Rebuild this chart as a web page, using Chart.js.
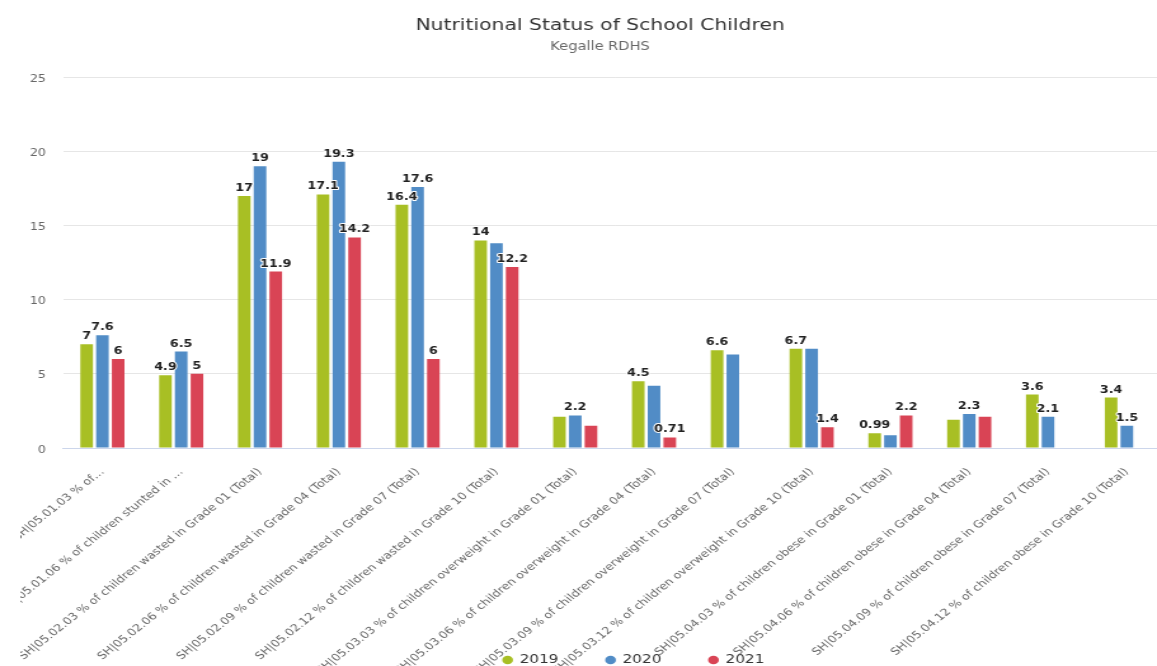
<!DOCTYPE html>
<html>
<head>
<meta charset="utf-8">
<title>Nutritional Status of School Children</title>
<script src="https://cdn.jsdelivr.net/npm/chart.js@4.4.1/dist/chart.umd.min.js"></script>
<style>
   html, body { margin: 0; padding: 0; background: #fff; overflow: hidden; }
   /* the source picture is stretched sideways, so the chart is drawn narrow and widened */
   #wrap { width: 945px; height: 666px; transform: scaleX(1.27); transform-origin: 0 0; }
</style>
</head>
<body>
<div id="wrap"><canvas id="myChart"></canvas></div>
<script>
/* ---------------------------------------------------------------------------------*/
/* Data */
/* ---------------------------------------------------------------------------------*/
const categories = [
   'SH|05.01.03 % of…',
   'SH|05.01.06 % of children stunted in …',
   'SH|05.02.03 % of children wasted in Grade 01 (Total)',
   'SH|05.02.06 % of children wasted in Grade 04 (Total)',
   'SH|05.02.09 % of children wasted in Grade 07 (Total)',
   'SH|05.02.12 % of children wasted in Grade 10 (Total)',
   'SH|05.03.03 % of children overweight in Grade 01 (Total)',
   'SH|05.03.06 % of children overweight in Grade 04 (Total)',
   'SH|05.03.09 % of children overweight in Grade 07 (Total)',
   'SH|05.03.12 % of children overweight in Grade 10 (Total)',
   'SH|05.04.03 % of children obese in Grade 01 (Total)',
   'SH|05.04.06 % of children obese in Grade 04 (Total)',
   'SH|05.04.09 % of children obese in Grade 07 (Total)',
   'SH|05.04.12 % of children obese in Grade 10 (Total)'
];
const years = ['2019', '2020', '2021'];
const values2019 = [7, 4.9, 17, 17.1, 16.4, 14, 2.1, 4.5, 6.6, 6.7, 0.99, 1.9, 3.6, 3.4];
const values2020 = [7.6, 6.5, 19, 19.3, 17.6, 13.8, 2.2, 4.2, 6.3, 6.7, 0.86, 2.3, 2.1, 1.5];
const values2021 = [6, 5, 11.9, 14.2, 6, 12.2, 1.5, 0.71, null, 1.4, 2.2, 2.1, null, null];
const yTicks = [0, 5, 10, 15, 20, 25];

const colors = ['#a8bf24', '#518cc6', '#d94455'];
const FONT = 'DejaVu Sans';
Chart.defaults.font.family = FONT;

/* ---------------------------------------------------------------------------------*/
/* Plugins */
/* ---------------------------------------------------------------------------------*/

// Value labels above the bars, hiding the ones that would overlap a bigger value
const barLabels = {
   id: 'barLabels',
   afterDatasetsDraw(chart) {
      const ctx = chart.ctx;
      ctx.save();
      ctx.font = 'bold 10px "' + FONT + '"';
      const items = [];
      chart.data.datasets.forEach((ds, i) => {
         const meta = chart.getDatasetMeta(i);
         meta.data.forEach((bar, j) => {
            const v = ds.data[j];
            if (v === null || v === undefined) return;
            const text = String(v);
            const w = ctx.measureText(text).width;
            const y = bar.y - 5;
            items.push({ text, v, x: bar.x, y, box: [bar.x - w / 2 + 1, y - 12, bar.x + w / 2 - 1, y + 2] });
         });
      });
      items.sort((a, b) => b.v - a.v);
      const kept = [];
      items.forEach(it => {
         const hit = kept.some(k => it.box[0] < k.box[2] && it.box[2] > k.box[0] &&
                                    it.box[1] < k.box[3] && it.box[3] > k.box[1]);
         if (!hit) kept.push(it);
      });
      ctx.textAlign = 'center';
      ctx.textBaseline = 'alphabetic';
      ctx.lineJoin = 'round';
      ctx.lineWidth = 2;
      ctx.strokeStyle = '#ffffff';
      ctx.fillStyle = '#222222';
      kept.forEach(it => {
         ctx.strokeText(it.text, it.x, it.y);
         ctx.fillText(it.text, it.x, it.y);
      });
      ctx.restore();
   }
};

// Legend sits a little right of centre, and the long axis labels run down into it
const layoutTweak = {
   id: 'layoutTweak',
   afterLayout(chart) {
      chart.legend.left += 26.5;
      chart.legend.right += 26.5;
      chart.scales.x.bottom = chart.height;
   }
};

// The source cuts the axis labels off near its left edge
const leftClip = {
   id: 'leftClip',
   afterDraw(chart) {
      const ctx = chart.ctx;
      ctx.save();
      ctx.fillStyle = '#ffffff';
      ctx.fillRect(0, chart.chartArea.bottom + 6, 16, chart.height);
      ctx.restore();
   }
};

/* ---------------------------------------------------------------------------------*/
/* Chart */
/* ---------------------------------------------------------------------------------*/
const ctx = document.querySelector('#myChart');

const data = {
   labels: categories,
   datasets: [values2019, values2020, values2021].map((vals, i) => ({
      label: years[i],
      data: vals,
      backgroundColor: colors[i],
      borderWidth: 0,
      categoryPercentage: 0.6,
      barPercentage: 0.8
   }))
};

const config = {
   type: 'bar',
   data: data,
   options: {
      responsive: true,
      maintainAspectRatio: false,
      animation: false,
      layout: { padding: { left: 0, right: 0, top: 0, bottom: -10 } },
      plugins: {
         title: {
            display: true,
            text: 'Nutritional Status of School Children',
            color: '#333333',
            font: { family: FONT, size: 16, weight: 'normal' },
            padding: { top: 16.4, bottom: 0 }
         },
         subtitle: {
            display: true,
            text: 'Kegalle RDHS',
            color: '#666666',
            font: { family: FONT, size: 11.5, weight: 'normal' },
            padding: { top: 4.3, bottom: 23.6 }
         },
         legend: {
            position: 'bottom',
            labels: {
               usePointStyle: true,
               pointStyle: 'circle',
               boxWidth: 7,
               boxHeight: 6,
               padding: 37.5,
               color: '#333333',
               font: { family: FONT, size: 12 }
            }
         },
         tooltip: { enabled: false }
      },
      scales: {
         x: {
            grid: { display: false },
            border: { color: '#ccd6eb' },
            ticks: {
               autoSkip: false,
               minRotation: 45,
               maxRotation: 45,
               padding: 10,
               color: '#666666',
               font: { family: FONT, size: 10 }
            },
            afterFit(scale) {
               scale.paddingLeft = 0;
               scale.paddingRight = 26.7;
               scale.height = 168.5;
            }
         },
         y: {
            min: 0,
            max: 25,
            afterBuildTicks(scale) {
               scale.ticks = yTicks.map(v => ({ value: v }));
            },
            ticks: {
               padding: 13.5,
               labelOffset: 2,
               color: '#666666',
               font: { family: FONT, size: 10 }
            },
            grid: {
               drawTicks: false,
               color: c => (c.tick && c.tick.value === 0 ? '#ccd6eb' : '#e6e6e6')
            },
            border: { display: false },
            afterFit(scale) {
               scale.width = 49.6;
            }
         }
      }
   },
   plugins: [barLabels, layoutTweak, leftClip]
};

const barChart = new Chart(ctx, config);
</script>
</body>
</html>
